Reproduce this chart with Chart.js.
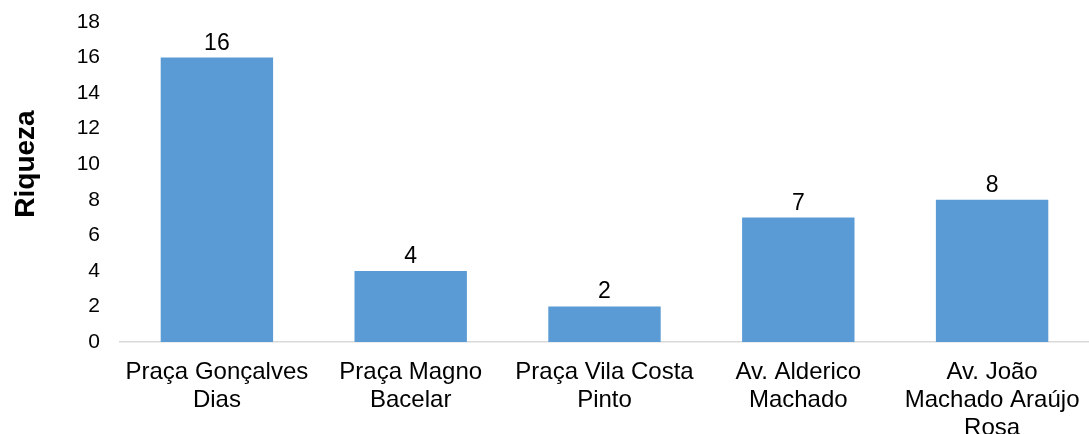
<!DOCTYPE html>
<html>
<head>
<meta charset="utf-8">
<script src="https://cdn.jsdelivr.net/npm/chart.js@4/dist/chart.umd.min.js"></script>
<style>
html,body{margin:0;padding:0;background:#fff;}
#wrap{width:1089px;height:434px;position:relative;}
</style>
</head>
<body>
<div id="wrap"><canvas id="c" width="1089" height="434"></canvas></div>
<script>
const categories = [
  ['Praça Gonçalves', 'Dias'],
  ['Praça Magno', 'Bacelar'],
  ['Praça Vila Costa', 'Pinto'],
  ['Av. Alderico', 'Machado'],
  ['Av. João', 'Machado Araújo', 'Rosa']
];
const riqueza = [16, 4, 2, 7, 8];
const yTitle = 'Riqueza';

const FONT = '"Liberation Sans", Arial, sans-serif';

const valueLabels = {
  id: 'valueLabels',
  afterDatasetsDraw(chart) {
    const ctx = chart.ctx;
    const meta = chart.getDatasetMeta(0);
    ctx.save();
    ctx.font = '23px ' + FONT;
    ctx.fillStyle = '#000';
    ctx.textAlign = 'center';
    ctx.textBaseline = 'alphabetic';
    meta.data.forEach((bar, i) => {
      ctx.fillText(String(chart.data.datasets[0].data[i]), bar.x, bar.y - 8);
    });
    ctx.restore();
  }
};

const yTitlePlugin = {
  id: 'yTitlePlugin',
  afterDraw(chart) {
    const ctx = chart.ctx;
    ctx.save();
    ctx.font = 'bold 28px ' + FONT;
    ctx.fillStyle = '#000';
    ctx.textAlign = 'center';
    ctx.textBaseline = 'alphabetic';
    ctx.translate(34, 164);
    ctx.rotate(-Math.PI / 2);
    ctx.fillText(yTitle, 0, 0);
    ctx.restore();
  }
};

new Chart(document.getElementById('c'), {
  type: 'bar',
  data: {
    labels: categories,
    datasets: [{
      data: riqueza,
      backgroundColor: '#5B9BD5',
      borderWidth: 0,
      categoryPercentage: 1,
      barPercentage: 0.58
    }]
  },
  options: {
    responsive: false,
    animation: false,
    layout: { padding: { top: 22, right: 0, left: 0, bottom: 0 } },
    plugins: { legend: { display: false }, tooltip: { enabled: false } },
    scales: {
      x: {
        grid: { display: false, drawTicks: false },
        border: { display: true, color: '#D9D9D9', width: 1.5 },
        ticks: {
          color: '#000',
          font: { family: FONT, size: 24, lineHeight: 1.17 },
          padding: 16,
          autoSkip: false,
          maxRotation: 0,
          minRotation: 0
        },
        afterFit(scale) {
          scale.height = 92;
          scale.paddingLeft = 0;
          scale.paddingRight = 0;
          scale.paddingTop = 0;
          scale.paddingBottom = 0;
        }
      },
      y: {
        min: 0, max: 18,
        grid: { display: false, drawTicks: false },
        border: { display: false },
        ticks: {
          stepSize: 2,
          color: '#000',
          font: { family: FONT, size: 21 },
          padding: 20
        },
        afterFit(scale) {
          scale.width = 120;
          scale.paddingTop = 0;
          scale.paddingBottom = 0;
          scale.paddingLeft = 0;
          scale.paddingRight = 0;
        }
      }
    }
  },
  plugins: [valueLabels, yTitlePlugin]
});
</script>
</body>
</html>
